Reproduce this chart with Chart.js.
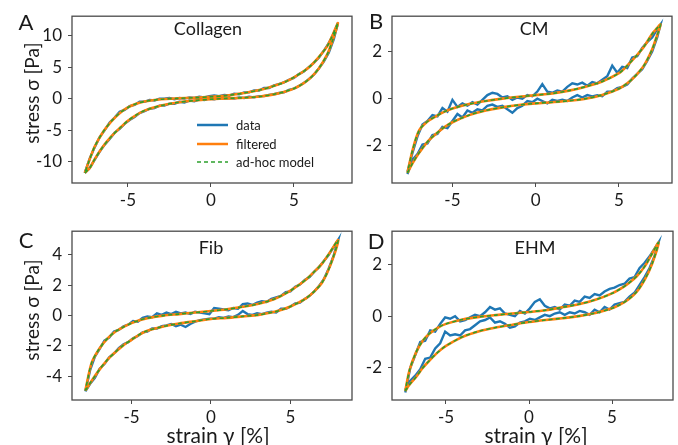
<!DOCTYPE html>
<html>
<head>
<meta charset="utf-8">
<script src="https://cdn.jsdelivr.net/npm/chart.js@4.4.1/dist/chart.umd.min.js"></script>
<style>
  body { margin: 0; background: #fff; }
  #fig { position: relative; width: 678px; height: 445px; font-family: Lato, sans-serif; color: #1a1a1a; overflow: hidden; }
  #fig canvas { position: absolute; }
  .lbl { position: absolute; white-space: nowrap; line-height: 1; transform: translate(-50%, -50%); }
  .letter { font-size: 22px; }
  .title { font-size: 18px; }
  .axis { font-size: 19px; }
  .xaxis { font-size: 21px; }
  .rot { transform: translate(-50%, -50%) rotate(-90deg); }
  .leg { position: absolute; left: 197px; font-size: 13px; display: flex; align-items: center; }
  .leg svg { margin-right: 8px; }
</style>
</head>
<body>
<div id="fig">
  <canvas id="panelA" width="360" height="220" style="left:0;top:0"></canvas>
  <canvas id="panelB" width="318" height="220" style="left:360px;top:0"></canvas>
  <canvas id="panelC" width="360" height="225" style="left:0;top:215px"></canvas>
  <canvas id="panelD" width="318" height="225" style="left:360px;top:215px"></canvas>

  <div class="lbl letter" style="left:26px;top:22px">A</div>
  <div class="lbl letter" style="left:376px;top:21px">B</div>
  <div class="lbl letter" style="left:26px;top:240px">C</div>
  <div class="lbl letter" style="left:376px;top:241px">D</div>

  <div class="lbl title" style="left:208px;top:28px">Collagen</div>
  <div class="lbl title" style="left:534px;top:28px">CM</div>
  <div class="lbl title" style="left:211px;top:247px">Fib</div>
  <div class="lbl title" style="left:535px;top:247px">EHM</div>

  <div class="lbl axis rot" style="left:31px;top:93px">stress σ [Pa]</div>
  <div class="lbl axis rot" style="left:31px;top:310px">stress σ [Pa]</div>
  <div class="lbl xaxis" style="left:218px;top:434px">strain γ [%]</div>
  <div class="lbl xaxis" style="left:536px;top:434px">strain γ [%]</div>

  <div class="leg" style="top:117px"><svg width="31" height="4"><line x1="0" y1="2" x2="31" y2="2" stroke="#1f77b4" stroke-width="2.5"/></svg>data</div>
  <div class="leg" style="top:136px"><svg width="31" height="4"><line x1="0" y1="2" x2="31" y2="2" stroke="#ff7f0e" stroke-width="2.5"/></svg>filtered</div>
  <div class="leg" style="top:154px"><svg width="31" height="4"><line x1="0" y1="2" x2="31" y2="2" stroke="#2ca02c" stroke-width="1.6" stroke-dasharray="4 3"/></svg>ad-hoc model</div>
</div>

<script>
// tick labels
const xTicks = [-5, 0, 5];
const yTicksA = [-10, -5, 0, 5, 10];
const yTicksB = [-2, 0, 2];
const yTicksC = [-4, -2, 0, 2, 4];
const yTicksD = [-2, 0, 2];

// A - Collagen
const strainA = [-7.6,-7.3,-7.0,-6.7,-6.4,-6.1,-5.8,-5.5,-5.2,-4.9,-4.6,-4.3,-4.0,-3.7,-3.4,-3.1,-2.8,-2.5,-2.2,-1.9,-1.6,-1.3,-1.0,-0.7,-0.4,-0.1,0.2,0.5,0.8,1.1,1.4,1.7,2.0,2.3,2.6,2.9,3.2,3.5,3.8,4.1,4.4,4.7,5.0,5.3,5.6,5.9,6.2,6.5,6.8,7.1,7.4,7.65];
const dataUpA = [-11.8,-9.5,-7.7,-6.1,-5.0,-3.8,-3.0,-2.1,-1.8,-1.2,-1.0,-0.5,-0.5,-0.2,-0.3,0.0,0.0,0.1,-0.1,0.1,0.0,0.2,0.1,0.3,0.2,0.4,0.5,0.4,0.6,0.5,0.8,0.7,1.0,1.0,1.3,1.3,1.7,1.7,2.1,2.3,2.6,3.0,3.3,3.9,4.3,5.0,5.7,6.5,7.6,8.8,10.4,12.0];
const dataLowA = [-11.8,-11.0,-9.7,-8.4,-7.3,-6.4,-5.4,-4.8,-4.0,-3.4,-2.9,-2.3,-2.0,-1.6,-1.5,-1.1,-1.1,-0.8,-0.8,-0.5,-0.6,-0.3,-0.4,-0.1,-0.2,0.0,-0.1,0.1,0.0,0.1,0.0,0.2,0.1,0.3,0.2,0.4,0.4,0.6,0.7,0.9,1.0,1.4,1.6,2.0,2.5,3.1,3.8,4.8,5.9,7.3,9.4,12.0];
const fitStrainA = [-7.6,-7.3,-7.0,-6.5,-6.0,-5.5,-5.0,-4.5,-4.0,-3.0,-2.0,-1.0,0,1,2,3,4,4.5,5,5.5,6,6.5,7.0,7.3,7.65];
const fitUpA = [-11.8,-9.6,-7.6,-5.3,-3.6,-2.3,-1.4,-0.8,-0.45,-0.1,0.05,0.15,0.3,0.5,0.9,1.4,2.2,2.7,3.4,4.2,5.2,6.6,8.3,9.9,12.0];
const fitLowA = [-11.8,-11.0,-9.6,-7.6,-6.0,-4.7,-3.5,-2.6,-1.9,-1.1,-0.6,-0.3,-0.1,0.05,0.15,0.35,0.8,1.15,1.6,2.3,3.3,4.8,7.0,9.0,12.0];

// B - CM
const strainB = [-7.7,-7.4,-7.1,-6.8,-6.5,-6.2,-5.9,-5.6,-5.3,-5.0,-4.7,-4.4,-4.1,-3.8,-3.5,-3.2,-2.9,-2.6,-2.3,-2.0,-1.7,-1.4,-1.1,-0.8,-0.5,-0.2,0.1,0.4,0.7,1.0,1.3,1.6,1.9,2.2,2.5,2.8,3.1,3.4,3.7,4.0,4.3,4.6,4.9,5.2,5.5,5.8,6.1,6.4,6.7,7.0,7.3,7.5];
const dataUpB = [-3.1,-2.3,-1.6,-1.1,-0.95,-0.7,-0.75,-0.4,-0.55,-0.05,-0.35,-0.2,-0.3,-0.15,-0.25,-0.05,0.15,0.25,0.2,0.05,0.1,-0.05,0.05,0.0,0.15,0.1,0.3,0.62,0.3,0.25,0.35,0.3,0.5,0.65,0.6,0.68,0.55,0.7,0.65,0.8,0.95,1.4,1.1,1.35,1.3,1.75,1.8,2.15,2.4,2.6,2.95,3.2];
const dataLowB = [-3.2,-2.6,-2.35,-1.95,-1.9,-1.55,-1.5,-1.2,-1.25,-0.95,-0.65,-0.8,-0.5,-0.6,-0.45,-0.5,-0.3,-0.25,-0.35,-0.3,-0.45,-0.6,-0.4,-0.3,-0.1,-0.15,0.0,-0.1,-0.2,-0.05,-0.1,-0.05,-0.1,0.05,0.15,0.05,0.15,0.1,0.15,0.1,0.3,0.3,0.45,0.5,0.6,0.85,1.05,1.25,1.6,2.0,2.6,3.15];
const fitStrainB = [-7.7,-7.4,-7.0,-6.5,-6.0,-5.5,-5.0,-4.0,-3.0,-2.0,-1.0,0,1,2,3,4,5,5.5,6,6.5,7.0,7.3,7.5];
const fitUpB = [-3.15,-2.2,-1.35,-0.97,-0.75,-0.56,-0.42,-0.23,-0.1,0.0,0.08,0.15,0.22,0.34,0.51,0.73,1.08,1.4,1.78,2.2,2.75,3.0,3.15];
const fitLowB = [-3.15,-2.75,-2.3,-1.83,-1.5,-1.22,-1.0,-0.7,-0.5,-0.37,-0.27,-0.2,-0.15,-0.09,0.0,0.16,0.42,0.65,0.97,1.4,2.1,2.7,3.15];

// C - Fib
const strainC = [-7.9,-7.6,-7.3,-7.0,-6.7,-6.4,-6.1,-5.8,-5.5,-5.2,-4.9,-4.6,-4.3,-4.0,-3.7,-3.4,-3.1,-2.8,-2.5,-2.2,-1.9,-1.6,-1.3,-1.0,-0.7,-0.4,-0.1,0.2,0.5,0.8,1.1,1.4,1.7,2.0,2.3,2.6,2.9,3.2,3.5,3.8,4.1,4.4,4.7,5.0,5.3,5.6,5.9,6.2,6.5,6.8,7.1,7.4,7.7,8.0];
const dataUpC = [-5.0,-3.6,-2.7,-2.2,-1.65,-1.45,-1.05,-0.95,-0.7,-0.6,-0.35,-0.4,-0.15,-0.05,-0.1,0.15,0.05,0.2,0.1,0.25,0.15,0.2,0.1,0.25,0.2,0.15,0.1,0.5,0.45,0.4,0.35,0.5,0.45,0.75,0.8,0.7,0.85,0.95,0.9,1.1,1.2,1.3,1.55,1.6,1.9,2.05,2.35,2.55,2.9,3.2,3.6,4.0,4.5,5.0];
const dataLowC = [-5.0,-4.5,-4.1,-3.5,-3.2,-2.75,-2.5,-2.15,-1.9,-1.75,-1.5,-1.35,-1.1,-1.05,-0.85,-0.85,-0.7,-0.65,-0.55,-0.7,-0.6,-0.75,-0.55,-0.4,-0.3,-0.25,-0.2,-0.2,-0.1,-0.15,-0.05,-0.1,0.05,0.3,0.1,0.05,0.15,0.1,0.2,0.25,0.2,0.45,0.45,0.6,0.8,0.85,1.1,1.3,1.6,1.95,2.4,3.1,3.9,5.0];
const fitStrainC = [-7.9,-7.5,-7.0,-6.5,-6.0,-5.5,-5.0,-4.5,-4.0,-3.0,-2.0,-1.0,0,1,2,3,4,4.5,5,5.5,6,6.5,7.0,7.5,8.0];
const fitUpC = [-4.95,-3.1,-2.15,-1.5,-1.05,-0.75,-0.5,-0.3,-0.17,0.0,0.1,0.2,0.3,0.42,0.58,0.78,1.1,1.35,1.65,2.0,2.4,2.9,3.45,4.2,4.98];
const fitLowC = [-4.95,-4.3,-3.55,-2.9,-2.4,-1.95,-1.6,-1.25,-1.0,-0.72,-0.52,-0.37,-0.22,-0.15,-0.05,0.05,0.25,0.4,0.6,0.85,1.15,1.6,2.2,3.3,4.98];

// D - EHM
const strainD = [-7.45,-7.15,-6.85,-6.55,-6.25,-5.95,-5.65,-5.35,-5.05,-4.75,-4.45,-4.15,-3.85,-3.55,-3.25,-2.95,-2.65,-2.35,-2.05,-1.75,-1.45,-1.15,-0.85,-0.55,-0.25,0.05,0.35,0.65,0.95,1.25,1.55,1.85,2.15,2.45,2.75,3.05,3.35,3.65,3.95,4.25,4.55,4.85,5.15,5.45,5.75,6.05,6.35,6.65,6.95,7.25,7.55,7.8];
const dataUpD = [-2.95,-2.0,-1.5,-1.0,-0.95,-0.55,-0.6,-0.3,-0.05,-0.1,0.0,-0.2,-0.15,-0.05,0.05,0.0,0.15,0.35,0.25,0.3,0.1,0.05,0.0,0.2,0.1,0.3,0.55,0.65,0.4,0.3,0.35,0.25,0.45,0.4,0.6,0.55,0.75,0.7,0.85,0.8,0.95,1.05,1.1,1.2,1.25,1.45,1.5,1.85,2.05,2.3,2.6,2.9];
const dataLowD = [-2.85,-2.5,-2.3,-2.05,-1.65,-1.6,-1.25,-1.05,-0.6,-0.75,-0.7,-0.75,-0.55,-0.5,-0.35,-0.2,-0.15,-0.05,-0.25,-0.2,-0.3,-0.45,-0.4,-0.25,-0.2,-0.1,-0.15,-0.05,0.05,0.0,0.1,0.15,0.05,0.15,0.1,0.2,0.15,0.05,0.25,0.15,0.35,0.25,0.45,0.5,0.55,0.75,0.9,1.2,1.5,1.85,2.3,2.85];
const fitStrainD = [-7.45,-7.2,-6.8,-6.4,-6.0,-5.5,-5.0,-4.0,-3.0,-2.0,-1.0,0,1,2,3,4,5,5.5,6,6.5,7.0,7.4,7.8];
const fitUpD = [-2.89,-2.1,-1.4,-0.95,-0.68,-0.45,-0.3,-0.13,-0.03,0.04,0.1,0.16,0.23,0.34,0.46,0.63,0.88,1.05,1.27,1.55,1.95,2.4,2.84];
const fitLowD = [-2.89,-2.65,-2.35,-2.0,-1.72,-1.4,-1.15,-0.8,-0.58,-0.44,-0.33,-0.23,-0.15,-0.08,0.0,0.12,0.3,0.45,0.65,0.95,1.45,2.0,2.84];

// lower branch left->right, then upper branch back right->left
function loop(xs, low, up) {
    const pts = xs.map((x, i) => ({ x: x, y: low[i] }));
    for (let i = xs.length - 2; i >= 0; i--) pts.push({ x: xs[i], y: up[i] });
    return pts;
}

const frame = {
    id: 'frame',
    afterDraw(chart) {
        const a = chart.chartArea;
        const ctx = chart.ctx;
        ctx.save();
        ctx.strokeStyle = '#4a4a4a';
        ctx.lineWidth = 1.3;
        ctx.strokeRect(a.left, a.top, a.right - a.left, a.bottom - a.top);
        ctx.restore();
    }
};

const tickFont = { family: 'Lato', size: 17 };

function panel(id, p) {
    const fit = loop(p.fx, p.flow, p.fup);
    new Chart(document.getElementById(id), {
        type: 'scatter',
        data: {
            datasets: [
                { label: 'data', data: loop(p.xs, p.low, p.up), showLine: true, borderColor: '#1f77b4', borderWidth: 2.4, pointRadius: 0, tension: 0, order: 3 },
                { label: 'filtered', data: fit, showLine: true, borderColor: '#ff7f0e', borderWidth: 2.6, pointRadius: 0, tension: 0.3, order: 2 },
                { label: 'ad-hoc model', data: fit, showLine: true, borderColor: '#2ca02c', borderWidth: 1.6, borderDash: [4, 3], pointRadius: 0, tension: 0.3, order: 1 }
            ]
        },
        options: {
            responsive: false,
            animation: false,
            layout: { padding: { top: p.padTop, right: p.padRight, left: 0, bottom: 0 } },
            plugins: { legend: { display: false }, tooltip: { enabled: false } },
            scales: {
                x: {
                    type: 'linear', min: p.xMin, max: p.xMax,
                    afterFit: s => { s.height = p.xh; },
                    afterBuildTicks: s => { s.ticks = xTicks.map(v => ({ value: v })); },
                    grid: { drawOnChartArea: false, tickLength: 4, color: '#4a4a4a' },
                    border: { display: false },
                    ticks: { font: tickFont, color: '#1a1a1a', padding: 3, maxRotation: 0 }
                },
                y: {
                    type: 'linear', min: p.yMin, max: p.yMax,
                    afterFit: s => { s.width = p.yw; },
                    afterBuildTicks: s => { s.ticks = p.yTicks.map(v => ({ value: v })); },
                    grid: { drawOnChartArea: false, tickLength: 4, color: '#4a4a4a' },
                    border: { display: false },
                    ticks: { font: tickFont, color: '#1a1a1a', padding: 6 }
                }
            }
        },
        plugins: [frame]
    });
}

panel('panelA', { xs: strainA, up: dataUpA, low: dataLowA, fx: fitStrainA, fup: fitUpA, flow: fitLowA,
    xMin: -8.37, xMax: 8.5, yMin: -13.4, yMax: 13.1, yTicks: yTicksA, yw: 72, xh: 37, padTop: 13, padRight: 8 });
panel('panelB', { xs: strainB, up: dataUpB, low: dataLowB, fx: fitStrainB, fup: fitUpB, flow: fitLowB,
    xMin: -8.63, xMax: 8.19, yMin: -3.58, yMax: 3.5, yTicks: yTicksB, yw: 32, xh: 37, padTop: 13, padRight: 6 });
panel('panelC', { xs: strainC, up: dataUpC, low: dataLowC, fx: fitStrainC, fup: fitUpC, flow: fitLowC,
    xMin: -8.74, xMax: 8.87, yMin: -5.57, yMax: 5.57, yTicks: yTicksC, yw: 72, xh: 40, padTop: 15, padRight: 8 });
panel('panelD', { xs: strainD, up: dataUpD, low: dataLowD, fx: fitStrainD, fup: fitUpD, flow: fitLowD,
    xMin: -8.25, xMax: 8.67, yMin: -3.24, yMax: 3.28, yTicks: yTicksD, yw: 32, xh: 40, padTop: 14, padRight: 5 });
</script>
</body>
</html>
